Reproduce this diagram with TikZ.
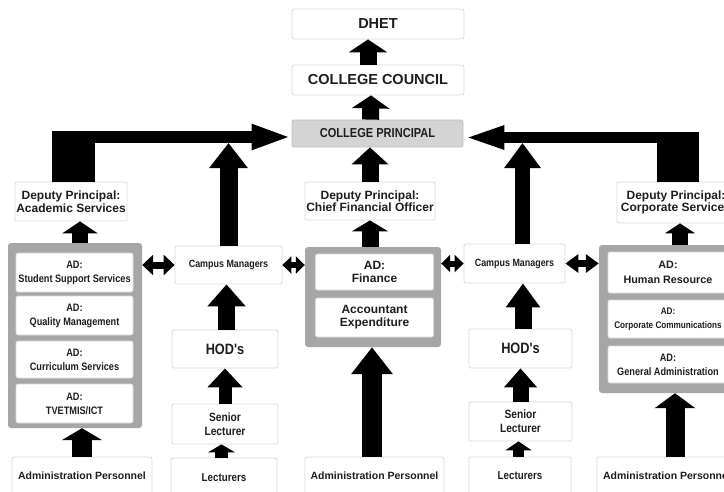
\documentclass[tikz,border=0pt]{standalone}
\usepackage{fontspec}
\setmainfont{Liberation Sans}
\newfontfamily\narrowfont[FakeStretch=0.85]{Liberation Sans}
\usetikzlibrary{arrows.meta,calc}
\definecolor{boxline}{HTML}{D9D9D9}
\definecolor{grpgray}{HTML}{A6A6A6}
\definecolor{prinfill}{HTML}{D4D4D4}
\definecolor{txt}{HTML}{1E1E1E}
\newcommand{\bigfnt}{\bfseries\fontsize{14.5}{16}\selectfont}
\newcommand{\dpfnt}{\bfseries\fontsize{12}{12.5}\selectfont}
\newcommand{\adfnt}{\narrowfont\bfseries\fontsize{10.8}{14}\selectfont}
\newcommand{\admfnt}{\bfseries\fontsize{10.5}{13}\selectfont}
\tikzset{
  box/.style={draw=boxline, fill=white, rounded corners=2pt, line width=0.8pt,
    align=center, text=txt, inner sep=0pt},
  group/.style={fill=grpgray, rounded corners=3pt, inner sep=0pt},
  blk/.style n args={3}{draw=black, line width=#1, -{Triangle[length=#2, width=#3]}},
  dbl/.style n args={3}{draw=black, line width=#1,
    {Triangle[length=#2, width=#3]}-{Triangle[length=#2, width=#3]}},
}
\begin{document}
\begin{tikzpicture}[x=1pt, y=-1pt]
\useasboundingbox[fill=white] (0,0) rectangle (724,491);
\clip (0,0) rectangle (724,491);
% top of the chart
\node[box, minimum width=172pt, minimum height=30pt, font=\bigfnt] (dhet) at (378,24) {DHET};
\node[box, minimum width=172pt, minimum height=30pt, font=\bigfnt] (council) at (378,80) {COLLEGE COUNCIL};
\node[box, fill=prinfill, draw=prinfill!90!black, minimum width=171pt, minimum height=27pt,
  font=\narrowfont\bfseries\fontsize{13}{14}\selectfont] (principal) at (377.5,133.5) {COLLEGE PRINCIPAL};
\node[box, minimum width=112pt, minimum height=39pt, font=\dpfnt] (dpA) at (71,201.5) {Deputy Principal:\\Academic Services};
\node[box, minimum width=130pt, minimum height=38pt, font=\dpfnt] (dpF) at (370,201) {Deputy Principal:\\Chief Financial Officer};
\node[box, minimum width=118pt, minimum height=41pt, font=\dpfnt] (dpC) at (676,202.5) {Deputy Principal:\\Corporate Services};
% grouped directorates
\node[group, minimum width=134pt, minimum height=185pt] (grpA) at (75,335.5) {};
\node[group, minimum width=136pt, minimum height=100pt] (grpF) at (373,297) {};
\node[group, minimum width=138pt, minimum height=148pt] (grpC) at (668,319) {};
\node[box, minimum width=117pt, minimum height=39pt, font=\adfnt] (adSSS) at (74.5,272.5) {AD:\\Student Support Services};
\node[box, minimum width=117pt, minimum height=39pt, font=\adfnt] (adQM) at (74.5,315.5) {AD:\\Quality Management};
\node[box, minimum width=117pt, minimum height=37pt, font=\adfnt] (adCS) at (74.5,359.5) {AD:\\Curriculum Services};
\node[box, minimum width=117pt, minimum height=39pt, font=\adfnt] (adTV) at (74.5,403.5) {AD:\\TVETMIS/ICT};
\node[box, minimum width=118pt, minimum height=36pt, font=\bfseries\fontsize{12}{13}\selectfont] (adFin) at (374.5,272) {AD:\\Finance};
\node[box, minimum width=118pt, minimum height=39pt, font=\bfseries\fontsize{12}{13}\selectfont] (accExp) at (374.5,317.5) {Accountant\\Expenditure};
\node[box, minimum width=120pt, minimum height=41pt, font=\bfseries\fontsize{10.8}{15}\selectfont] (adHR) at (668,272.5) {AD:\\Human Resource};
\node[box, minimum width=120pt, minimum height=38pt, font=\narrowfont\bfseries\fontsize{9.6}{14}\selectfont] (adCC) at (668,319) {AD:\\Corporate Communications};
\node[box, minimum width=120pt, minimum height=37pt, font=\adfnt] (adGA) at (668,364.5) {AD:\\General Administration};
% campus line
\node[box, minimum width=107pt, minimum height=38pt, font=\narrowfont\bfseries\fontsize{10.5}{12}\selectfont] (cm1) at (228.5,265) {Campus Managers};
\node[box, minimum width=106pt, minimum height=38pt, font=\narrowfont\bfseries\fontsize{15}{16}\selectfont] (hod1) at (225,349) {HOD's};
\node[box, minimum width=106pt, minimum height=40pt, font=\narrowfont\bfseries\fontsize{12}{14}\selectfont] (sl1) at (225,424) {Senior\\Lecturer};
\node[box, minimum width=106pt, minimum height=40pt, font=\narrowfont\bfseries\fontsize{11.5}{13}\selectfont] (lec1) at (224,478) {Lecturers};
\node[box, minimum width=101pt, minimum height=39pt, font=\narrowfont\bfseries\fontsize{10.5}{12}\selectfont] (cm2) at (514.5,263.5) {Campus Managers};
\node[box, minimum width=103pt, minimum height=39pt, font=\narrowfont\bfseries\fontsize{15}{16}\selectfont] (hod2) at (520.5,348.5) {HOD's};
\node[box, minimum width=103pt, minimum height=39pt, font=\narrowfont\bfseries\fontsize{12}{14}\selectfont] (sl2) at (520.5,421.5) {Senior\\Lecturer};
\node[box, minimum width=102pt, minimum height=38pt, font=\narrowfont\bfseries\fontsize{11.5}{13}\selectfont] (lec2) at (520,476) {Lecturers};
\node[box, minimum width=140pt, minimum height=38pt, font=\admfnt] (adm1) at (82,476) {Administration Personnel};
\node[box, minimum width=139pt, minimum height=38pt, font=\admfnt] (adm2) at (374.5,476) {Administration Personnel};
\node[box, minimum width=140pt, minimum height=38pt, font=\admfnt] (adm3) at (667,476) {Administration Personnel};
% reporting arrows
\draw[blk={17pt}{13pt}{38pt}] ([xshift=-10pt]council.north) -- ([xshift=-10pt]dhet.south);
\draw[blk={17pt}{13pt}{37pt}] ([xshift=-7pt]principal.north) -- ([xshift=-7pt]council.south);
\draw[blk={17pt}{17pt}{36pt}] (dpF.north) -- (dpF.north |- principal.south);
\draw[blk={17pt}{11pt}{36pt}] (dpF.south |- grpF.north) -- (dpF.south);
\draw[blk={16pt}{12pt}{35pt}] ([xshift=9pt]dpA.south |- grpA.north) -- ([xshift=9pt]dpA.south);
\draw[blk={16pt}{10pt}{30pt}] ([xshift=4pt]dpC.south |- grpC.north) -- ([xshift=4pt]dpC.south);
\coordinate (barL) at (73.5,131);
\coordinate (elbL) at (52,137);
\coordinate (barR) at (678,132);
\coordinate (elbR) at (699,137.5);
\coordinate (shaftbot) at (0,143);
\draw[line width=43pt] (barL |- dpA.north) -- (barL);
\draw[blk={12pt}{40pt}{23pt}] (elbL) -- (elbL -| principal.west);
\draw[line width=42pt] (barR |- dpC.north) -- (barR);
\draw[blk={11pt}{41pt}{21pt}] (elbR) -- (elbR -| principal.east);
\draw[blk={18pt}{25pt}{37pt}] (cm1.north) -- (cm1.north |- shaftbot);
\draw[blk={15pt}{25pt}{35pt}] ([xshift=8pt]cm2.north) -- ([xshift=8pt]cm2.north |- shaftbot);
\draw[blk={17pt}{22pt}{37pt}] ([xshift=1.5pt]hod1.north) -- ([xshift=1.5pt]hod1.north |- cm1.south);
\draw[blk={13pt}{19pt}{34pt}] (sl1.north) -- (sl1.north |- hod1.south);
\draw[blk={13pt}{8pt}{27pt}] ([xshift=-2.5pt]lec1.north) -- ([xshift=-2.5pt]lec1.north |- sl1.south);
\draw[blk={17pt}{24pt}{33pt}] ([xshift=2.5pt]hod2.north) -- ([xshift=2.5pt]hod2.north |- cm2.south);
\draw[blk={16pt}{19pt}{32pt}] (sl2.north) -- (sl2.north |- hod2.south);
\draw[blk={11pt}{9pt}{26pt}] ([xshift=-1.5pt]lec2.north) -- ([xshift=-1.5pt]lec2.north |- sl2.south);
\draw[blk={20pt}{12pt}{40pt}] (adm1.north) -- (adm1.north |- grpA.south);
\draw[blk={20pt}{27pt}{40pt}] ([xshift=-2.5pt]adm2.north) -- ([xshift=-2.5pt]adm2.north |- grpF.south);
\draw[blk={19pt}{15pt}{40pt}] ([xshift=8pt]adm3.north) -- ([xshift=8pt]adm3.north |- grpC.south);
% links between the columns
\draw[dbl={7pt}{11pt}{20pt}] (grpA.east |- cm1) -- (cm1.west);
\draw[dbl={6pt}{9pt}{17pt}] (cm1.east) -- (cm1.east -| grpF.west);
\draw[dbl={6pt}{9pt}{17pt}] (grpF.east |- cm2) -- (cm2.west);
\draw[dbl={7pt}{13pt}{18pt}] (cm2.east) -- (cm2.east -| grpC.west);
\end{tikzpicture}
\end{document}
